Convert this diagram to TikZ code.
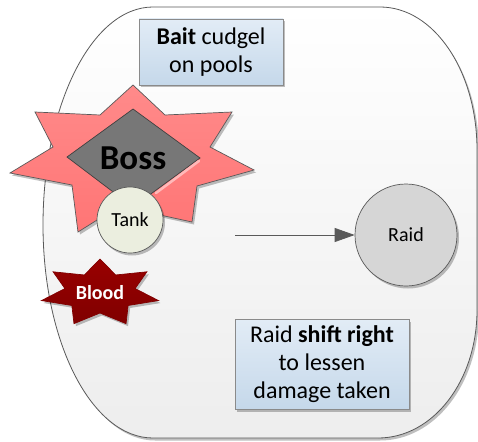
\documentclass[tikz,border=0pt]{standalone}
\usepackage{fontspec}
\setmainfont{Carlito}
\usetikzlibrary{arrows.meta,shadows}

\definecolor{edgegray}{HTML}{595959}
\definecolor{boxtop}{HTML}{E2ECF6}
\definecolor{boxbottom}{HTML}{C5D8EA}
\definecolor{boxedge}{HTML}{8A8A8A}
\definecolor{starpink}{HTML}{FF8A8A}
\definecolor{starpinkdark}{HTML}{FF7373}
\definecolor{bossgray}{HTML}{777777}
\definecolor{tankfill}{HTML}{EBEEDF}
\definecolor{bloodred}{HTML}{990000}
\definecolor{bloodreddark}{HTML}{800000}
\definecolor{raidfill}{HTML}{D6D6D6}

\tikzset{
  softshadow/.style={drop shadow={shadow xshift=2pt, shadow yshift=-2.5pt, opacity=0.25, fill=black}},
  arena/.style={draw=edgegray, line width=0.8pt, top color=white, bottom color=black!7},
  notebox/.style={draw=boxedge, line width=0.8pt, top color=boxtop, bottom color=boxbottom,
    align=center, inner sep=0pt, softshadow,
    font=\fontsize{24}{28}\selectfont},
  bossstar/.style={draw=edgegray, line width=0.7pt, top color=starpink, bottom color=starpinkdark, softshadow},
  bossdiamond/.style={draw=black!75, line width=0.7pt, fill=bossgray},
  tankdisc/.style={circle, draw=edgegray, line width=0.7pt, fill=tankfill, inner sep=0pt,
    minimum size=66pt, softshadow, font=\fontsize{20}{24}\selectfont},
  bloodstar/.style={draw=bloodreddark, line width=0.7pt, top color=bloodred, bottom color=bloodreddark, softshadow},
  raiddisc/.style={circle, draw=edgegray, line width=0.7pt, fill=raidfill, inner sep=0pt,
    minimum size=102pt, softshadow, font=\fontsize{20}{24}\selectfont},
  moveline/.style={draw=edgegray, line width=0.8pt, -{Triangle[length=20pt,width=14pt]}},
}

\begin{document}
\begin{tikzpicture}[x=1pt,y=-1pt]
\useasboundingbox (0,0) rectangle (478,441);

% arena outline: flat top and bottom, elliptical sides
\path[arena, softshadow]
  (153,7) -- (380,7)
  .. controls (434,7) and (477,71) .. (477,150)
  -- (477,310)
  .. controls (477,381) and (433,438) .. (378,438)
  -- (153,438)
  .. controls (92,438) and (43,343) .. (43,225)
  .. controls (43,105) and (92,7) .. (153,7) -- cycle;

% note on the cudgel
\node[notebox, minimum width=144pt, minimum height=66pt] (bait) at (211,52)
  {\textbf{Bait} cudgel\\on pools};

% boss: eight-pointed burst with a diamond on top
\path[bossstar]
  (133,85) -- (165,115) -- (232,112) -- (210,147) -- (254,170) -- (197,186)
  -- (192,222) -- (160,215) -- (133,248) -- (105,215) -- (78,232) -- (72,185)
  -- (10,173) -- (53,147) -- (35,112) -- (100,115) -- cycle;
\path[bossdiamond] (133,109) -- (200,158) -- (133,207) -- (67,157) -- cycle;
\draw[line width=2.5pt, color=starpink!60!white, line cap=round] (199,161) -- (156,193);
\node[font=\fontsize{35}{40}\selectfont\bfseries] (boss) at (133,158) {Boss};

% tank
\node[tankdisc] (tank) at (130,220) {Tank};

% blood: seven-pointed burst
\path[bloodstar, shift={(100,293)}]
  (90:60pt and 34pt)
  \foreach \k in {0,...,6} {
    -- ({90+(\k+0.5)*360/7}:36pt and 20pt)
    -- ({90+(\k+1)*360/7}:60pt and 34pt)
  } -- cycle;
\node[text=white, font=\fontsize{20}{24}\selectfont\bfseries] (blood) at (100,293) {Blood};

% raid and its movement
\node[raiddisc] (raid) at (406,235) {Raid};
\coordinate (movefrom) at (235,235);
\draw[moveline] (movefrom) -- (raid.west);

% note on the raid
\node[notebox, minimum width=174pt, minimum height=90pt] (shift) at (322,364)
  {Raid \textbf{shift right}\\to lessen\\damage taken};
\end{tikzpicture}
\end{document}
